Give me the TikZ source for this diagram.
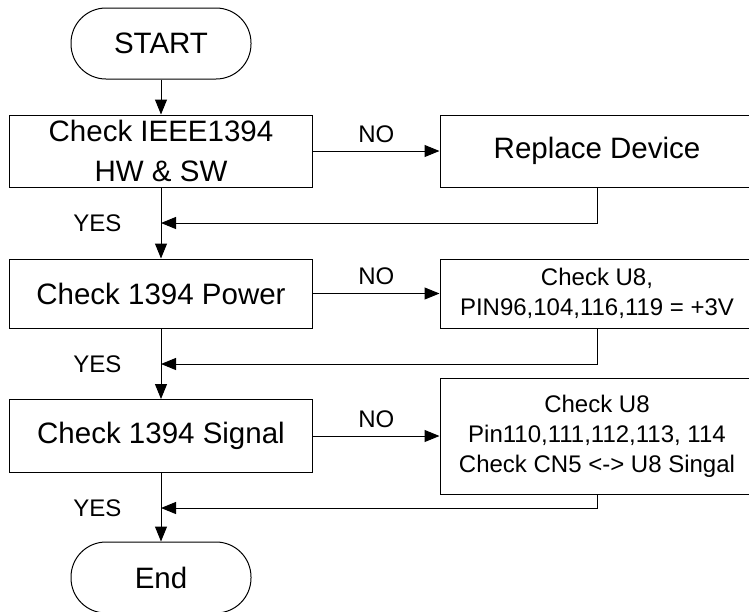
\documentclass[tikz,border=0pt]{standalone}
\usepackage{fontspec}
\setmainfont{Liberation Sans}
\usetikzlibrary{arrows.meta,positioning}

\begin{document}
\begin{tikzpicture}[
  x=1pt,y=-1pt,line width=1pt,
  >={Triangle[length=15pt,width=12pt]},
  term/.style={draw,rounded corners=35pt,minimum width=180pt,minimum height=71pt,
    inner sep=0pt,font=\fontsize{29.5}{40}\selectfont},
  box/.style={draw,minimum width=303pt,minimum height=72pt,align=center,
    inner sep=0pt,font=\fontsize{29.5}{40}\selectfont},
  fixbox/.style={box,minimum width=314pt},
  small/.style={font=\fontsize{24}{30}\selectfont},
  lbl/.style={inner sep=0pt,font=\fontsize{24}{28}\selectfont},
  arr/.style={->}
]
  \useasboundingbox (0,0) rectangle (749,611);
  \fill[white] (0,0) rectangle (749,611);
  \clip (0,0) rectangle (749,611);

  \node[term] (start) at (161,43.5) {START};
  \node[box] (hwsw) at (161,151) {Check IEEE1394\\HW \& SW};
  \node[fixbox] (replace) at (597,151) {Replace Device};
  \node[box,minimum height=69pt] (power) at (161,293.5) {Check 1394 Power};
  \node[fixbox,small,minimum height=69pt] (pincheck) at (597,293.5) {Check U8,\\PIN96,104,116,119 = +3V};
  \node[box,minimum height=73pt] (signal) at (161,436) {Check 1394 Signal};
  \node[fixbox,small,minimum height=116pt] (sigcheck) at (597,436) {Check U8\\Pin110,111,112,113, 114\\Check CN5 <-> U8 Singal};
  \node[term] (end) at (161,577.5) {End};

  % return points on the main line
  \coordinate (fb1) at (161,223);
  \coordinate (fb2) at (161,364);
  \coordinate (fb3) at (161,508);

  \draw[arr] (start) -- (hwsw);
  \draw[arr] (hwsw) -- node[lbl,above=8pt] {NO} (replace);
  \draw[arr] (replace.south) |- (fb1);
  \draw[arr] (hwsw) -- (power);
  \draw[arr] (power) -- node[lbl,above=8pt] {NO} (pincheck);
  \draw[arr] (pincheck.south) |- (fb2);
  \draw[arr] (power) -- (signal);
  \draw[arr] (signal) -- node[lbl,above=8pt] {NO} (sigcheck);
  \draw[arr] (sigcheck.south) |- (fb3);
  \draw[arr] (signal) -- (end);

  \node[lbl,left=39pt of fb1] (yes1) {YES};
  \node[lbl,left=39pt of fb2] (yes2) {YES};
  \node[lbl,left=39pt of fb3] (yes3) {YES};
\end{tikzpicture}
\end{document}
